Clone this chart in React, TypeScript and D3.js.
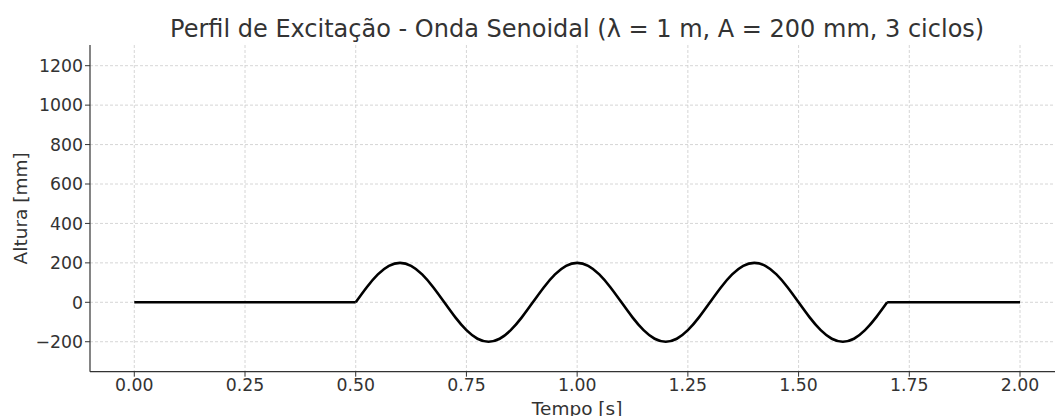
import React from "react";
import * as d3 from "d3";

const W = 1055;
const H = 416;

const title = "Perfil de Excitação - Onda Senoidal (λ = 1 m, A = 200 mm, 3 ciclos)";
const xLabel = "Tempo [s]";
const yLabel = "Altura [mm]";

const xTicks = [0, 0.25, 0.5, 0.75, 1.0, 1.25, 1.5, 1.75, 2.0];
const yTicks = [-200, 0, 200, 400, 600, 800, 1000, 1200];

// flat segments (time, height)
const flatBefore: [number, number][] = [[0, 0], [0.5, 0]];
const flatAfter: [number, number][] = [[1.7, 0], [2.0, 0]];

// sine segment sampled every 0.025 s starting at 0.5 s
const sineStart = 0.5;
const sineStep = 0.025;
const sineHeights = [
  0, 76.5, 141.4, 184.8, 200, 184.8, 141.4, 76.5,
  0, -76.5, -141.4, -184.8, -200, -184.8, -141.4, -76.5,
  0, 76.5, 141.4, 184.8, 200, 184.8, 141.4, 76.5,
  0, -76.5, -141.4, -184.8, -200, -184.8, -141.4, -76.5,
  0, 76.5, 141.4, 184.8, 200, 184.8, 141.4, 76.5,
  0, -76.5, -141.4, -184.8, -200, -184.8, -141.4, -76.5,
  0,
];

const left = 90;
const right = 1064.3;
const top = 45;
const bottom = 371.7;

export default function App() {
  const x = d3.scaleLinear().domain([-0.1, 2.1]).range([left, right]);
  const y = d3.scaleLinear().domain([-352, 1305]).range([bottom, top]);

  const sinePts: [number, number][] = sineHeights.map((h, i) => [sineStart + i * sineStep, h]);

  const lineLin = d3.line<[number, number]>().x((d) => x(d[0])).y((d) => y(d[1]));
  const lineSine = d3
    .line<[number, number]>()
    .x((d) => x(d[0]))
    .y((d) => y(d[1]))
    .curve(d3.curveNatural);

  const font = "DejaVu Sans, sans-serif";
  const textColor = "#333333";
  const gridColor = "#cccccc";

  return (
    <svg
      width={W}
      height={H}
      style={{ position: "absolute", left: 0, top: 0, background: "#fff", overflow: "hidden" }}
    >
      <rect x={0} y={0} width={W} height={H} fill="#fff" />
      {/* grid */}
      {xTicks.map((t) => (
        <line
          key={"gx" + t}
          x1={x(t)}
          x2={x(t)}
          y1={top}
          y2={bottom}
          stroke={gridColor}
          strokeWidth={0.8}
          strokeDasharray="3,2"
        />
      ))}
      {yTicks.map((t) => (
        <line
          key={"gy" + t}
          x1={left}
          x2={right}
          y1={y(t)}
          y2={y(t)}
          stroke={gridColor}
          strokeWidth={0.8}
          strokeDasharray="3,2"
        />
      ))}
      {/* data */}
      <path d={lineLin(flatBefore) || ""} fill="none" stroke="#000" strokeWidth={2.6} strokeLinejoin="round" />
      <path d={lineSine(sinePts) || ""} fill="none" stroke="#000" strokeWidth={2.6} strokeLinejoin="round" />
      <path d={lineLin(flatAfter) || ""} fill="none" stroke="#000" strokeWidth={2.6} strokeLinejoin="round" />
      {/* spines */}
      <line x1={left} x2={left} y1={top} y2={bottom} stroke={textColor} strokeWidth={1.2} />
      <line x1={left} x2={right} y1={bottom} y2={bottom} stroke={textColor} strokeWidth={1.2} />
      {/* x ticks */}
      {xTicks.map((t) => (
        <g key={"xt" + t}>
          <line x1={x(t)} x2={x(t)} y1={bottom} y2={bottom + 5} stroke={textColor} strokeWidth={1} />
          <text
            x={x(t)}
            y={391}
            textAnchor="middle"
            fontFamily={font}
            fontSize={17.3}
            fill={textColor}
          >
            {t.toFixed(2)}
          </text>
        </g>
      ))}
      {/* y ticks */}
      {yTicks.map((t) => (
        <g key={"yt" + t}>
          <line x1={left - 5} x2={left} y1={y(t)} y2={y(t)} stroke={textColor} strokeWidth={1} />
          <text
            x={left - 7}
            y={y(t)}
            dy="0.36em"
            textAnchor="end"
            fontFamily={font}
            fontSize={17.3}
            fill={textColor}
          >
            {t < 0 ? "\u2212" + Math.abs(t) : String(t)}
          </text>
        </g>
      ))}
      {/* labels */}
      <text
        x={(left + right) / 2}
        y={37}
        textAnchor="middle"
        fontFamily={font}
        fontSize={24}
        fill={textColor}
      >
        {title}
      </text>
      <text
        x={(left + right) / 2}
        y={415}
        textAnchor="middle"
        fontFamily={font}
        fontSize={18.5}
        fill={textColor}
      >
        {xLabel}
      </text>
      <text
        transform={`translate(27, ${(top + bottom) / 2}) rotate(-90)`}
        textAnchor="middle"
        fontFamily={font}
        fontSize={18.5}
        fill={textColor}
      >
        {yLabel}
      </text>
    </svg>
  );
}
